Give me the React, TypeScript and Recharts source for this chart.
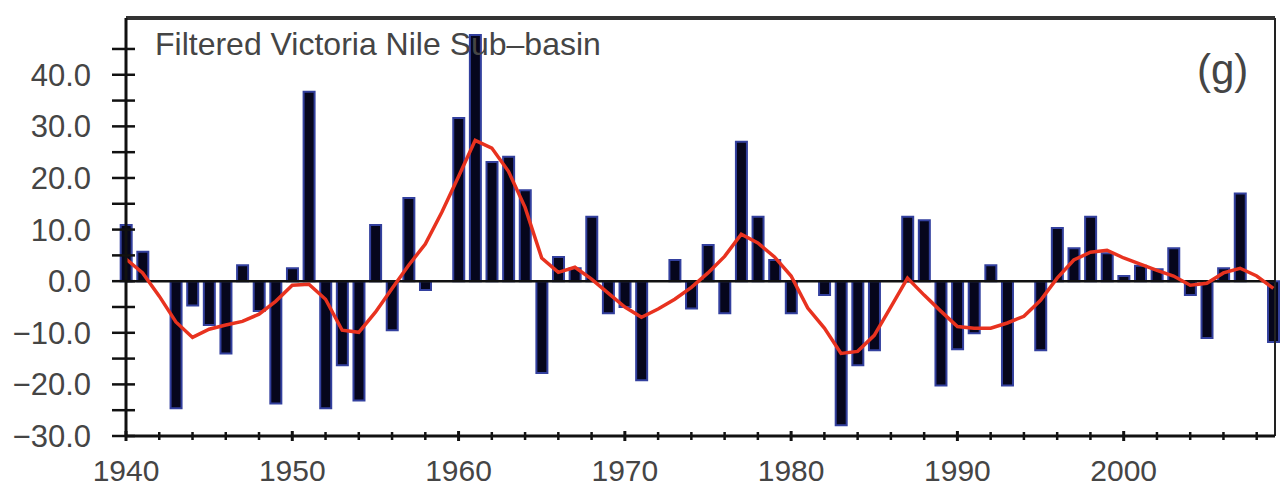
import React from 'react';
import { ComposedChart, Bar, Line, XAxis, YAxis, ReferenceLine } from 'recharts';

// years of record
const years = [
  1940, 1941, 1942, 1943, 1944, 1945, 1946, 1947, 1948, 1949,
  1950, 1951, 1952, 1953, 1954, 1955, 1956, 1957, 1958, 1959,
  1960, 1961, 1962, 1963, 1964, 1965, 1966, 1967, 1968, 1969,
  1970, 1971, 1972, 1973, 1974, 1975, 1976, 1977, 1978, 1979,
  1980, 1981, 1982, 1983, 1984, 1985, 1986, 1987, 1988, 1989,
  1990, 1991, 1992, 1993, 1994, 1995, 1996, 1997, 1998, 1999,
  2000, 2001, 2002, 2003, 2004, 2005, 2006, 2007, 2008, 2009,
];

// yearly anomaly (bars)
const anomaly = [
  10.9, 5.7, 0, -24.6, -4.7, -8.5, -14.0, 3.1, -5.8, -23.7,
  2.5, 36.7, -24.6, -16.3, -23.1, 10.9, -9.5, 16.1, -1.7, 0,
  31.6, 47.7, 23.1, 24.1, 17.6, -17.8, 4.7, 2.5, 12.5, -6.2,
  -5.0, -19.2, 0, 4.1, -5.3, 7.0, -6.2, 27.0, 12.5, 4.1,
  -6.2, 0, -2.7, -27.9, -16.3, -13.4, 0, 12.5, 11.8, -20.2,
  -13.2, -10.1, 3.1, -20.2, 0, -13.4, 10.3, 6.4, 12.5, 5.4,
  1.0, 3.0, 2.3, 6.4, -2.7, -11.0, 2.5, 17.0, 0, -11.8,
];

// filtered (smoothed) series
const filtered = [
  4.3, 1.6, -2.9, -7.9, -10.9, -9.3, -8.5, -7.8, -6.4, -3.9,
  -0.8, -0.6, -3.5, -9.5, -9.9, -6.0, -1.4, 3.1, 7.2, 13.4,
  20.3, 27.3, 25.8, 21.3, 14.3, 4.5, 1.7, 2.7, 0.4, -2.3,
  -5.0, -7.0, -5.4, -3.5, -1.2, 1.6, 4.8, 9.1, 7.4, 4.7,
  1.0, -5.2, -9.1, -14.0, -13.6, -10.5, -5.0, 0.6, -2.7, -5.8,
  -8.8, -9.1, -9.1, -8.1, -6.8, -3.7, 0.6, 4.1, 5.6, 6.0,
  4.5, 3.3, 2.1, 1.0, -0.8, -0.4, 1.6, 2.5, 1.0, -1.4,
];

const yTicks = [-30, -25, -20, -15, -10, -5, 0, 5, 10, 15, 20, 25, 30, 35, 40, 45];
const xTicks = [
  1940, 1942, 1944, 1946, 1948, 1950, 1952, 1954, 1956, 1958,
  1960, 1962, 1964, 1966, 1968, 1970, 1972, 1974, 1976, 1978,
  1980, 1982, 1984, 1986, 1988, 1990, 1992, 1994, 1996, 1998,
  2000, 2002, 2004, 2006, 2008,
];

const data = years.map((year, i) => ({ year, anomaly: anomaly[i], filtered: filtered[i] }));

const fontFamily = '"Liberation Sans", Arial, Helvetica, sans-serif';
const textColor = '#454545';

const fmtY = (v: number) => (v < 0 ? '\u2212' : '') + Math.abs(v).toFixed(1);

const YTick = (props: any) => {
  const { x, y, payload } = props;
  const v = payload.value;
  const major = v % 10 === 0;
  return (
    <g>
      <line x1={x - 14} x2={x + 9} y1={y} y2={y} stroke="#111" strokeWidth={2.5} />
      {major && (
        <text x={x - 35} y={y + 11} textAnchor="end" fontSize={31} fontFamily={fontFamily} fill={textColor}>
          {fmtY(v)}
        </text>
      )}
    </g>
  );
};

const XTick = (props: any) => {
  const { x, y, payload } = props;
  const v = payload.value;
  const major = v % 10 === 0;
  return (
    <g>
      <line x1={x} x2={x} y1={y - (major ? 5 : 4)} y2={y + (major ? 5 : 4)} stroke="#111" strokeWidth={major ? 3 : 2.5} />
      {major && (
        <text x={x} y={y + 45} textAnchor="middle" fontSize={30} fontFamily={fontFamily} fill={textColor}>
          {v}
        </text>
      )}
    </g>
  );
};

export default function App() {
  return (
    <div style={{ position: 'absolute', left: 0, top: 0, width: 1280, height: 488, background: '#fff' }}>
      <ComposedChart
        width={1280}
        height={488}
        data={data}
        margin={{ top: 18, right: 5, bottom: 0, left: 0 }}
      >
        <XAxis
          dataKey="year"
          type="number"
          domain={[1940, 2009.1]}
          ticks={xTicks}
          interval={0}
          height={52}
          tickSize={0}
          tickMargin={0}
          tickLine={false}
          tick={<XTick />}
          axisLine={{ stroke: '#111', strokeWidth: 3 }}
        />
        <YAxis
          type="number"
          domain={[-30, 51]}
          ticks={yTicks}
          interval={0}
          width={126}
          tickSize={0}
          tickMargin={0}
          tickLine={false}
          tick={<YTick />}
          axisLine={{ stroke: '#111', strokeWidth: 3 }}
        />
        <ReferenceLine y={51} stroke="#333" strokeWidth={4} />
        <ReferenceLine x={2009.1} stroke="#222" strokeWidth={2} />
        <Bar
          dataKey="anomaly"
          barSize={11}
          fill="#06061c"
          stroke="#33409e"
          strokeWidth={2}
          isAnimationActive={false}
        />
        <ReferenceLine y={0} stroke="#111" strokeWidth={2.5} />
        <Line
          dataKey="filtered"
          type="linear"
          stroke="#e8321f"
          strokeWidth={3.5}
          dot={false}
          isAnimationActive={false}
        />
      </ComposedChart>
      <svg width={1280} height={488} style={{ position: 'absolute', left: 0, top: 0, pointerEvents: 'none' }}>
        <text x={155} y={55} fontSize={32} fontFamily={fontFamily} fill={textColor}>
          Filtered Victoria Nile Sub{'\u2013'}basin
        </text>
        <text x={1197} y={84} fontSize={42} fontFamily={fontFamily} fill={textColor}>
          (g)
        </text>
      </svg>
    </div>
  );
}
